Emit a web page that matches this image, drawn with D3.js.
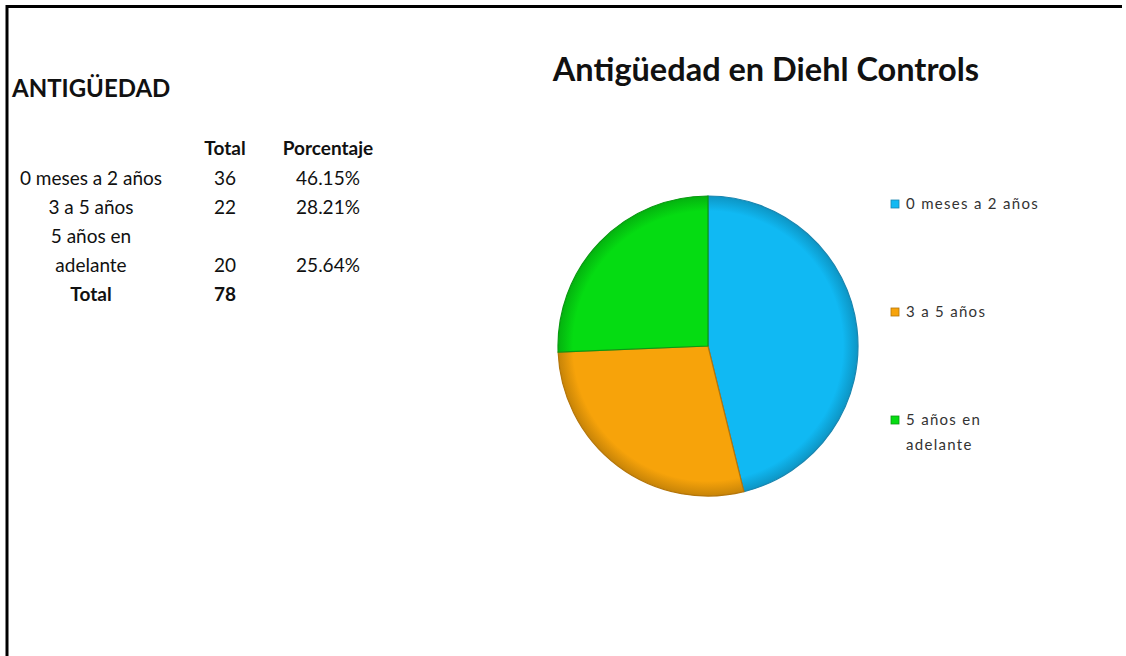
<!DOCTYPE html>
<html>
<head>
<meta charset="utf-8">
<script src="https://cdn.jsdelivr.net/npm/d3@7"></script>
<style>
  body { margin: 0; background: #fff; }
  svg text { font-family: Lato, "Open Sans", sans-serif; }
</style>
</head>
<body>
<div id="chart"></div>
<script>
/// DATOS ///
const categorias = ["0 meses a 2 años", "3 a 5 años", "5 años en adelante"];
const totales = [36, 22, 20];
const porcentajes = ["46.15%", "28.21%", "25.64%"];
const totalGeneral = 78;
const colores = ["#10b9f3", "#f7a30a", "#05dc12"];
const bordes = ["#1a86b0", "#b5760a", "#0a9a12"];

const width = 1126, height = 656;

const svg = d3
  .select("#chart")
  .append("svg")
  .attr("width", width)
  .attr("height", height);

// marco
svg.append("line").attr("x1", 6).attr("x2", 1122).attr("y1", 6.5).attr("y2", 6.5)
  .attr("stroke", "#000").attr("stroke-width", 3);
svg.append("line").attr("x1", 7).attr("x2", 7).attr("y1", 5).attr("y2", height)
  .attr("stroke", "#000").attr("stroke-width", 3);

/// TABLA ///
svg.append("text")
  .attr("x", 12).attr("y", 97)
  .style("font-size", "24px").style("font-weight", "bold").attr("fill", "#111")
  .text("ANTIGÜEDAD");

const colX = { label: 91, total: 225, pct: 328 };
const fs = "19px";

const header = svg.append("g").style("font-size", fs).style("font-weight", "bold").attr("fill", "#111");
header.append("text").attr("x", colX.total).attr("y", 155).attr("text-anchor", "middle").text("Total");
header.append("text").attr("x", colX.pct).attr("y", 155).attr("text-anchor", "middle").text("Porcentaje");

// filas: la tercera etiqueta va en dos líneas
const filaY = [185, 214, 272];
const filas = svg.append("g").style("font-size", fs).attr("fill", "#111").attr("text-anchor", "middle");
categorias.forEach((c, i) => {
  if (i === 2) {
    filas.append("text").attr("x", colX.label).attr("y", 243).text("5 años en");
    filas.append("text").attr("x", colX.label).attr("y", 272).text("adelante");
  } else {
    filas.append("text").attr("x", colX.label).attr("y", filaY[i]).text(c);
  }
  filas.append("text").attr("x", colX.total).attr("y", filaY[i]).text(totales[i]);
  filas.append("text").attr("x", colX.pct).attr("y", filaY[i]).text(porcentajes[i]);
});

const fTotal = svg.append("g").style("font-size", fs).style("font-weight", "bold").attr("fill", "#111").attr("text-anchor", "middle");
fTotal.append("text").attr("x", colX.label).attr("y", 301).text("Total");
fTotal.append("text").attr("x", colX.total).attr("y", 301).text(totalGeneral);

/// TÍTULO ///
svg.append("text")
  .attr("x", 766).attr("y", 81)
  .attr("text-anchor", "middle")
  .style("font-size", "32.5px").style("font-weight", "bold").attr("fill", "#111")
  .text("Antigüedad en Diehl Controls");

/// PASTEL ///
const cx = 708, cy = 346, r = 150;

const defs = svg.append("defs");
colores.forEach((col, i) => {
  const g = defs.append("radialGradient").attr("id", "grad" + i)
    .attr("gradientUnits", "userSpaceOnUse")
    .attr("cx", 0).attr("cy", 0).attr("r", r);
  g.append("stop").attr("offset", "0%").attr("stop-color", col);
  g.append("stop").attr("offset", "90%").attr("stop-color", col);
  g.append("stop").attr("offset", "100%").attr("stop-color", d3.color(col).darker(0.6));
});

const pie = d3.pie().sort(null)(totales);
const arc = d3.arc().innerRadius(0).outerRadius(r);

const gPie = svg.append("g").attr("transform", `translate(${cx},${cy})`);

gPie.selectAll("path")
  .data(pie)
  .join("path")
  .attr("d", arc)
  .attr("fill", (d, i) => `url(#grad${i})`)
  .attr("stroke", (d, i) => bordes[i])
  .attr("stroke-width", 1.2);

/// LEYENDA ///
const legY = [204, 312, 420];
const leg = svg.append("g");
categorias.forEach((c, i) => {
  leg.append("rect")
    .attr("x", 891).attr("y", legY[i] - 4).attr("width", 8).attr("height", 8)
    .attr("fill", colores[i]).attr("stroke", bordes[i]).attr("stroke-width", 0.8);
});
const legText = leg.append("g").style("font-size", "15px").style("letter-spacing", "1.3px").attr("fill", "#333");
legText.append("text").attr("x", 906).attr("y", legY[0] + 5).text(categorias[0]);
legText.append("text").attr("x", 906).attr("y", legY[1] + 5).text(categorias[1]);
legText.append("text").attr("x", 906).attr("y", legY[2] + 5).text("5 años en");
legText.append("text").attr("x", 906).attr("y", legY[2] + 30).text("adelante");
</script>
</body>
</html>
